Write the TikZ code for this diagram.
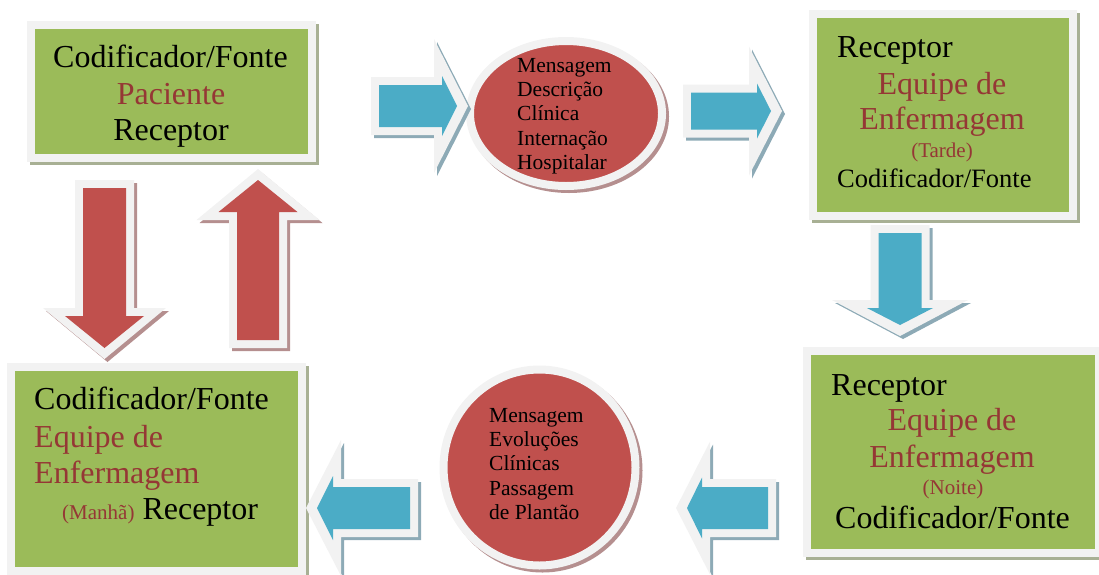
\documentclass[tikz,border=0pt]{standalone}
\usepackage{fontspec}
\setmainfont{Liberation Serif}
\usepackage{tikz}
\usetikzlibrary{shapes.geometric}
\usepackage{xcolor}

\definecolor{boxgreen}{HTML}{9BBB59}
\definecolor{rimwhite}{HTML}{F2F2F2}
\definecolor{msgred}{HTML}{C0504D}
\definecolor{flowblue}{HTML}{4BACC6}
\definecolor{redtext}{HTML}{953735}
\definecolor{boxshade}{HTML}{A8B094}
\definecolor{redshade}{HTML}{B58F8F}
\definecolor{blueshade}{HTML}{8DAAB6}

\tikzset{
  pics/blockarrow/.style args={#1/#2/#3/#4/#5}{code={
    % shaft length / shaft half width / head half width / head length / rim at head
    \path[arrowshade, transform canvas={shift={(3pt,-3pt)}}]
      (-8,-#2-8) -- (#1-8,-#2-8) -- (#1-8,-#3-#5) -- (#1+#4+11,0)
      -- (#1-8,#3+#5) -- (#1-8,#2+8) -- (-8,#2+8) -- cycle;
    \path[fill=rimwhite]
      (-8,-#2-8) -- (#1-8,-#2-8) -- (#1-8,-#3-#5) -- (#1+#4+11,0)
      -- (#1-8,#3+#5) -- (#1-8,#2+8) -- (-8,#2+8) -- cycle;
    \path[arrowface]
      (0,-#2) -- (#1,-#2) -- (#1,-#3) -- (#1+#4,0) -- (#1,#3) -- (#1,#2) -- (0,#2) -- cycle;
  }},
  arrowface/.style={fill=flowblue},
  arrowshade/.style={fill=blueshade},
  redarrow/.style={arrowface/.style={fill=msgred}, arrowshade/.style={fill=redshade}}
}

\begin{document}
\begin{tikzpicture}[x=1pt, y=-1pt,
  box/.style={rectangle, draw=rimwhite, fill=boxgreen, line width=8pt, inner sep=0pt,
              preaction={draw=boxshade, fill=boxshade, transform canvas={shift={(3pt,-3pt)}}}},
  msg/.style={ellipse, draw=rimwhite, fill=msgred, line width=8pt, inner sep=0pt,
              preaction={draw=redshade, fill=redshade, transform canvas={shift={(3pt,-3pt)}}}},
  big/.style={font=\fontsize{32}{37}\selectfont, inner sep=0pt},
  mid/.style={font=\fontsize{26.5}{31}\selectfont, inner sep=0pt},
  note/.style={font=\fontsize{21}{25}\selectfont, inner sep=0pt, text=redtext},
  msgtxt/.style={font=\fontsize{21.5}{24.5}\selectfont, inner sep=0pt, anchor=base west}
]
  \useasboundingbox (0,0) rectangle (1099,574);

  % boxes and messages
  \node[box, minimum width=281pt, minimum height=133pt] (pac) at (171.5,91.5) {};
  \node[box, minimum width=260pt, minimum height=202pt] (tarde) at (943,115) {};
  \node[box, minimum width=292pt, minimum height=202pt] (noite) at (953,452) {};
  \node[box, minimum width=291pt, minimum height=204pt] (manha) at (156.5,469) {};
  \node[msg, minimum width=192pt, minimum height=145pt] (desc) at (566,113.5) {};
  \node[msg, minimum width=192pt, minimum height=196pt] (evol) at (539.5,467.5) {};

  % texts
  \node[big, anchor=base] (pac1) at (170.5,67) {Codificador/Fonte};
  \node[big, anchor=base, text=redtext] (pac2) at (171,104) {Paciente};
  \node[big, anchor=base] (pac3) at (171,140) {Receptor};

  \node[big, anchor=base west] (tar1) at (837,57) {Receptor};
  \node[big, anchor=base, text=redtext] (tar2) at (942,94) {Equipe de};
  \node[big, anchor=base, text=redtext] (tar3) at (942,129) {Enfermagem};
  \node[note, anchor=base] (tar4) at (942,157) {(Tarde)};
  \node[mid, anchor=base west] (tar5) at (837,187) {Codificador/Fonte};

  \node[big, anchor=base west] (noi1) at (831,395) {Receptor};
  \node[big, anchor=base, text=redtext] (noi2) at (952,430) {Equipe de};
  \node[big, anchor=base, text=redtext] (noi3) at (952,467) {Enfermagem};
  \node[note, anchor=base] (noi4) at (953,494) {(Noite)};
  \node[big, anchor=base west] (noi5) at (835,528) {Codificador/Fonte};

  \node[big, anchor=base west] (man1) at (34,409) {Codificador/Fonte};
  \node[big, anchor=base west, text=redtext] (man2) at (34,447) {Equipe de};
  \node[big, anchor=base west, text=redtext] (man3) at (34,483) {Enfermagem};
  \node[big, anchor=base west] (man4) at (62,519)
    {\textcolor{redtext}{\fontsize{21}{25}\selectfont(Manhã)} Receptor};

  \node[msgtxt] (desc1) at (517,72) {Mensagem};
  \node[msgtxt] (desc2) at (517,96.4) {Descrição};
  \node[msgtxt] (desc3) at (517,120.8) {Clínica};
  \node[msgtxt] (desc4) at (517,145.2) {Internação};
  \node[msgtxt] (desc5) at (517,169.6) {Hospitalar};

  \node[msgtxt] (evol1) at (489,422) {Mensagem};
  \node[msgtxt] (evol2) at (489,446.4) {Evoluções};
  \node[msgtxt] (evol3) at (489,470.8) {Clínicas};
  \node[msgtxt] (evol4) at (489,495.2) {Passagem};
  \node[msgtxt] (evol5) at (489,519.6) {de Plantão};

  % block arrows
  \coordinate (a1) at (379,106);
  \coordinate (a2) at (691,111);
  \coordinate (a3) at (900,233);
  \coordinate (a4) at (768,508);
  \coordinate (a5) at (410,508);
  \coordinate (r1) at (104.5,188);
  \coordinate (r2) at (258,340);

  \pic at (a1) {blockarrow=63/21/30/15/37};
  \pic at (a2) {blockarrow=66/18.5/27.5/14/37};
  \pic[rotate=-90] at (a3) {blockarrow=75/21.5/33/17/35};
  \pic[rotate=180] at (a4) {blockarrow=66/21/30.5/15/36};
  \pic[rotate=180] at (a5) {blockarrow=77/21/32/16/36};
  \pic[redarrow, rotate=-90] at (r1) {blockarrow=128/21.5/39.5/32/22};
  \pic[redarrow, rotate=90] at (r2) {blockarrow=128/21/39.5/32/22};
\end{tikzpicture}
\end{document}
